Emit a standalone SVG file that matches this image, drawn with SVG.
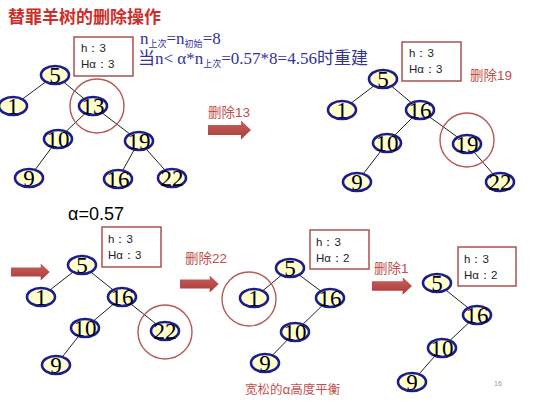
<svg xmlns="http://www.w3.org/2000/svg" width="536" height="402" viewBox="0 0 536 402">
<defs>
<style>
.nd ellipse{fill:#ffffcc;stroke:#1c1c8f;stroke-width:2.6}
.nd text{font-family:'Liberation Serif','Times New Roman','DejaVu Serif',serif;font-size:23px;fill:#000;text-anchor:middle}
.edges line{stroke:#222;stroke-width:1}
.info rect{fill:#fff;stroke:#a9524f;stroke-width:1.5}
.info text{font-family:'Liberation Sans',Arial,sans-serif;font-size:11.5px;fill:#222}
.hl{fill:none;stroke:#b55a57;stroke-width:1.4}
.lbl{font-family:'Liberation Sans','Noto Sans CJK SC',sans-serif;font-size:13.5px;fill:#c0504d}
.fm{font-family:'Liberation Serif','Times New Roman','DejaVu Serif','Noto Sans CJK SC',serif;font-size:17px;fill:#333399}
.sub{font-size:9px}
</style>
<linearGradient id="ag" x1="0" y1="0" x2="0" y2="1">
<stop offset="0" stop-color="#c9605c"/>
<stop offset="1" stop-color="#a83b38"/>
</linearGradient>
<path id="arr" d="M0,-5 H33 V-9.5 L43,0 L33,9.5 V5 H0 Z" fill="url(#ag)"/>
</defs>
<rect width="536" height="402" fill="#fff"/>
<text x="8" y="23" font-family="'Noto Sans CJK SC',sans-serif" font-size="17" font-weight="bold" fill="#cc2f2a">替罪羊树的删除操作</text>

<text class="fm" x="140" y="44">n<tspan class="sub" dy="3">上次</tspan><tspan dy="-3">=n</tspan><tspan class="sub" dy="3">初始</tspan><tspan dy="-3">=8</tspan></text>
<text class="fm" x="138" y="64">当n&lt; α*n<tspan class="sub" dy="3">上次</tspan><tspan dy="-3">=0.57*8=4.56时重建</tspan></text>

<g class="edges">
<line x1="55" y1="75" x2="13" y2="106"/><line x1="55" y1="75" x2="93" y2="106"/>
<line x1="93" y1="106" x2="58" y2="139"/><line x1="93" y1="106" x2="139" y2="141"/>
<line x1="58" y1="139" x2="29" y2="178"/><line x1="139" y1="141" x2="118" y2="179"/>
<line x1="139" y1="141" x2="172" y2="178"/>
<line x1="383" y1="79" x2="342" y2="110"/><line x1="383" y1="79" x2="420" y2="110"/>
<line x1="420" y1="110" x2="387" y2="143"/><line x1="420" y1="110" x2="467" y2="144"/>
<line x1="387" y1="143" x2="357" y2="182"/><line x1="467" y1="144" x2="500" y2="182"/>
<line x1="82" y1="265" x2="41" y2="297"/><line x1="82" y1="265" x2="122" y2="297"/>
<line x1="122" y1="297" x2="85" y2="328"/><line x1="122" y1="297" x2="165" y2="331"/>
<line x1="85" y1="328" x2="56" y2="365"/>
<line x1="290" y1="268" x2="254" y2="298"/><line x1="290" y1="268" x2="330" y2="298"/>
<line x1="330" y1="298" x2="295" y2="332"/><line x1="295" y1="332" x2="265" y2="363"/>
<line x1="437" y1="283" x2="477" y2="315"/><line x1="477" y1="315" x2="442" y2="348"/>
<line x1="442" y1="348" x2="412" y2="382"/>
</g>

<g id="t1">
<g id="t1n5" class="nd"><ellipse cx="55" cy="75" rx="14" ry="9"/><text x="55" y="83">5</text></g>
<g id="t1n1" class="nd"><ellipse cx="13" cy="106" rx="14" ry="9"/><text x="13" y="114">1</text></g>
<g id="t1n13" class="nd"><ellipse cx="93" cy="106" rx="14" ry="9"/><text x="93" y="114">13</text></g>
<g id="t1n10" class="nd"><ellipse cx="58" cy="139" rx="14" ry="9"/><text x="58" y="147">10</text></g>
<g id="t1n19" class="nd"><ellipse cx="139" cy="141" rx="14" ry="9"/><text x="139" y="149">19</text></g>
<g id="t1n9" class="nd"><ellipse cx="29" cy="178" rx="14" ry="9"/><text x="29" y="186">9</text></g>
<g id="t1n16" class="nd"><ellipse cx="118" cy="179" rx="14" ry="9"/><text x="118" y="187">16</text></g>
<g id="t1n22" class="nd"><ellipse cx="172" cy="178" rx="14" ry="9"/><text x="172" y="186">22</text></g>
</g>
<circle class="hl" cx="97" cy="106" r="27"/>
<g id="info1" class="info"><rect x="74" y="37" width="59" height="39"/><text x="81" y="52">h：3</text><text x="81" y="68">Hα：3</text></g>

<text class="lbl" x="208" y="117">删除13</text>
<use href="#arr" x="208" y="130"/>

<g id="t2">
<g id="t2n5" class="nd"><ellipse cx="383" cy="79" rx="14" ry="9"/><text x="383" y="87">5</text></g>
<g id="t2n1" class="nd"><ellipse cx="342" cy="110" rx="14" ry="9"/><text x="342" y="118">1</text></g>
<g id="t2n16" class="nd"><ellipse cx="420" cy="110" rx="14" ry="9"/><text x="420" y="118">16</text></g>
<g id="t2n10" class="nd"><ellipse cx="387" cy="143" rx="14" ry="9"/><text x="387" y="151">10</text></g>
<g id="t2n19" class="nd"><ellipse cx="467" cy="144" rx="14" ry="9"/><text x="467" y="152">19</text></g>
<g id="t2n9" class="nd"><ellipse cx="357" cy="182" rx="14" ry="9"/><text x="357" y="190">9</text></g>
<g id="t2n22" class="nd"><ellipse cx="500" cy="182" rx="14" ry="9"/><text x="500" y="190">22</text></g>
</g>
<circle class="hl" cx="467" cy="140" r="27"/>
<g id="info2" class="info"><rect x="402" y="42" width="59" height="39"/><text x="409" y="57">h：3</text><text x="409" y="73">Hα：3</text></g>
<text class="lbl" x="470" y="80">删除19</text>

<text x="68" y="220" font-family="'Liberation Sans',Arial,sans-serif" font-size="18" fill="#000">α=0.57</text>
<use href="#arr" x="11" y="272" transform="translate(11 272) scale(0.9) translate(-11 -272)"/>

<g id="t3">
<g id="t3n5" class="nd"><ellipse cx="82" cy="265" rx="14" ry="9"/><text x="82" y="273">5</text></g>
<g id="t3n1" class="nd"><ellipse cx="41" cy="297" rx="14" ry="9"/><text x="41" y="305">1</text></g>
<g id="t3n16" class="nd"><ellipse cx="122" cy="297" rx="14" ry="9"/><text x="122" y="305">16</text></g>
<g id="t3n10" class="nd"><ellipse cx="85" cy="328" rx="14" ry="9"/><text x="85" y="336">10</text></g>
<g id="t3n22" class="nd"><ellipse cx="165" cy="331" rx="14" ry="9"/><text x="165" y="339">22</text></g>
<g id="t3n9" class="nd"><ellipse cx="56" cy="365" rx="14" ry="9"/><text x="56" y="373">9</text></g>
</g>
<circle class="hl" cx="165" cy="332" r="27"/>
<g id="info3" class="info"><rect x="102" y="227" width="59" height="40"/><text x="108" y="243">h：3</text><text x="108" y="259">Hα：3</text></g>

<text class="lbl" x="185" y="263">删除22</text>
<use href="#arr" x="180" y="284" transform="translate(180 284) scale(0.9) translate(-180 -284)"/>

<g id="t4">
<g id="t4n5" class="nd"><ellipse cx="290" cy="268" rx="14" ry="9"/><text x="290" y="276">5</text></g>
<g id="t4n1" class="nd"><ellipse cx="254" cy="298" rx="14" ry="9"/><text x="254" y="306">1</text></g>
<g id="t4n16" class="nd"><ellipse cx="330" cy="298" rx="14" ry="9"/><text x="330" y="306">16</text></g>
<g id="t4n10" class="nd"><ellipse cx="295" cy="332" rx="14" ry="9"/><text x="295" y="340">10</text></g>
<g id="t4n9" class="nd"><ellipse cx="265" cy="363" rx="14" ry="9"/><text x="265" y="371">9</text></g>
</g>
<circle class="hl" cx="249" cy="299" r="27"/>
<g id="info4" class="info"><rect x="310" y="230" width="59" height="39"/><text x="316" y="246">h：3</text><text x="316" y="262">Hα：2</text></g>

<text class="lbl" x="374" y="273">删除1</text>
<use href="#arr" x="372" y="286" transform="translate(372 286) scale(0.93) translate(-372 -286)"/>

<g id="t5">
<g id="t5n5" class="nd"><ellipse cx="437" cy="283" rx="14" ry="9"/><text x="437" y="291">5</text></g>
<g id="t5n16" class="nd"><ellipse cx="477" cy="315" rx="14" ry="9"/><text x="477" y="323">16</text></g>
<g id="t5n10" class="nd"><ellipse cx="442" cy="348" rx="14" ry="9"/><text x="442" y="356">10</text></g>
<g id="t5n9" class="nd"><ellipse cx="412" cy="382" rx="14" ry="9"/><text x="412" y="390">9</text></g>
</g>
<g id="info5" class="info"><rect x="458" y="247" width="58" height="39"/><text x="464" y="263">h：3</text><text x="464" y="279">Hα：2</text></g>

<text x="245" y="394" font-family="'Noto Sans CJK SC',sans-serif" font-size="12.5" fill="#c0504d">宽松的α高度平衡</text>
<text x="494" y="386" font-family="'Liberation Sans',Arial,sans-serif" font-size="7" fill="#999">16</text>
</svg>
